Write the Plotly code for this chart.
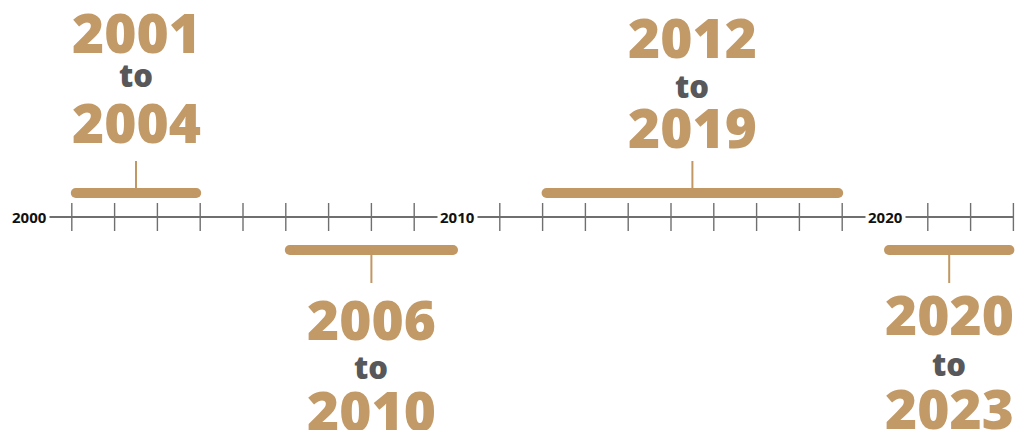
import plotly.graph_objects as go

# ---- data ----
period_start = [2001, 2006, 2012, 2020]
period_end = [2004, 2010, 2019, 2023]
period_side = ["above", "below", "above", "below"]
decade_labels = [2000, 2010, 2020]
tick_years = [y for y in range(2001, 2024) if y % 10 != 0]
connector_word = "to"

# ---- style ----
TAN = "#C19763"
TAN_TEXT = "#C29A68"
GREY_TEXT = "#58585A"
AXIS_GREY = "#6F6F6F"
W, H = 1015, 430
PX_PER_YEAR = 42.8
X0_PX = 29  # pixel of year 2000
AXIS_PX = 217
BIG = 55
SMALL = 31

xmin = 2000 - X0_PX / PX_PER_YEAR
xmax = xmin + W / PX_PER_YEAR


def ypx(p):
    # convert a pixel row into y data units (axis line = 0, up positive)
    return AXIS_PX - p


# text rows (pixel centres) per period: start year, "to", end year
text_rows = {
    0: (31.5, 75, 121),
    1: (318, 367, 409.5),
    2: (36.5, 86, 126),
    3: (313.5, 364, 407),
}
bar_rows = {"above": 193, "below": 250}
stem_ends = {"above": 161, "below": 283}
inset = 4 / PX_PER_YEAR

fig = go.Figure()

# timeline line
fig.add_trace(go.Scatter(
    x=[2000, 2023], y=[0, 0], mode="lines",
    line=dict(color=AXIS_GREY, width=2.2), hoverinfo="skip", showlegend=False))

# year ticks
fig.add_trace(go.Scatter(
    x=tick_years, y=[0] * len(tick_years), mode="markers",
    marker=dict(symbol="line-ns", size=20, line=dict(color=AXIS_GREY, width=1.4)),
    hoverinfo="skip", showlegend=False))

annotations = []
for i, (s, e, side) in enumerate(zip(period_start, period_end, period_side)):
    by = ypx(bar_rows[side])
    # bar with round ends
    fig.add_trace(go.Scatter(
        x=[s + inset, e - inset], y=[by, by], mode="lines+markers",
        line=dict(color=TAN, width=10),
        marker=dict(color=TAN, size=10, line=dict(width=0)),
        hoverinfo="skip", showlegend=False))
    mid = (s + e) / 2
    # stem
    fig.add_trace(go.Scatter(
        x=[mid, mid], y=[by, ypx(stem_ends[side])], mode="lines",
        line=dict(color=TAN, width=2), hoverinfo="skip", showlegend=False))
    r1, r2, r3 = text_rows[i]
    for txt, row, size, col in [(str(s), r1, BIG, TAN_TEXT),
                                (connector_word, r2, SMALL, GREY_TEXT),
                                (str(e), r3, BIG, TAN_TEXT)]:
        annotations.append(dict(
            x=mid, y=ypx(row), xref="x", yref="y", text=txt, showarrow=False,
            xanchor="center", yanchor="middle",
            font=dict(family="Open Sans", size=size, color=col, weight=800)))

for d in decade_labels:
    annotations.append(dict(
        x=d, y=0, xref="x", yref="y", text=str(d), showarrow=False,
        xanchor="center", yanchor="middle", bgcolor="white", borderpad=2,
        font=dict(family="Open Sans", size=15, color="#111111", weight=700)))

fig.update_layout(
    width=W, height=H,
    margin=dict(l=0, r=0, t=0, b=0),
    paper_bgcolor="white", plot_bgcolor="white",
    xaxis=dict(range=[xmin, xmax], visible=False, fixedrange=True),
    yaxis=dict(range=[ypx(H), ypx(0)], visible=False, fixedrange=True),
    annotations=annotations,
    showlegend=False,
)

fig.write_html(
    "out.html",
    config={"displayModeBar": False},
    post_script="document.body.style.margin='0';document.body.style.overflow='hidden';",
)
